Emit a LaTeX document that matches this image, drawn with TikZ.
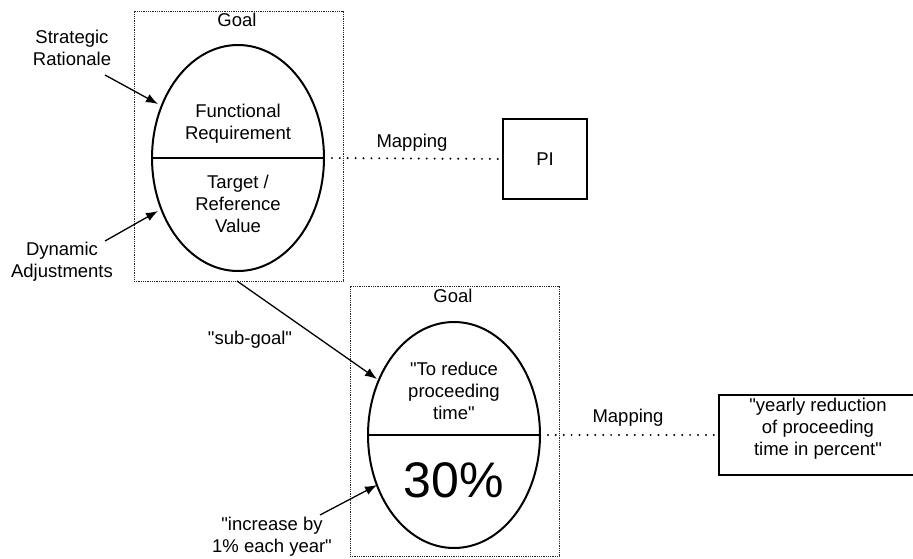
\documentclass[tikz,border=0pt]{standalone}
\usepackage{fontspec}
\setmainfont{Liberation Sans}[Ligatures=TeXOff]
\usetikzlibrary{arrows.meta,shapes.geometric}
\begin{document}
\begin{tikzpicture}[x=1pt,y=-1pt,
  every node/.style={font=\fontsize{18.5}{22}\selectfont, inner sep=0pt, outer sep=0pt},
  txt/.style={align=center},
  goalbox/.style={draw=black!85, line width=0.9pt, dash pattern=on 0.9pt off 0.9pt, minimum width=209pt, minimum height=270pt},
  egg/.style={draw, ellipse, line width=2pt, minimum width=172pt, minimum height=226pt},
  pibox/.style={draw, line width=2pt},
  map/.style={line width=2.2pt, line cap=round, dash pattern=on 0pt off 7.9pt},
  arr/.style={line width=1.3pt, -{Latex[length=12pt,width=9pt]}},
  divider/.style={line width=2pt}
]
\useasboundingbox (0,0) rectangle (913,559);
\clip (0,0) rectangle (913,559);

% top goal
\node[goalbox] (gbox1) at (238.5,146) {};
\node (goal1) at (237,20) {Goal};
\node[egg] (ell1) at (238,158) {};
\draw[divider] (ell1.west) -- (ell1.east);
\node[txt] (fr) at (238,124) {Functional\\Requirement};
\node[txt] (tr) at (238,204) {Target /\\Reference\\Value};
\node[txt] (sr) at (72,48) {Strategic\\Rationale};
\node[txt] (da) at (62,262) {Dynamic\\Adjustments};
\coordinate (srs) at (105,75);
\coordinate (srt) at (158,104);
\coordinate (das) at (105,241);
\coordinate (dat) at (158,211);
\draw[arr] (srs) -- (srt);
\draw[arr] (das) -- (dat);

% PI
\node[pibox, minimum width=84pt, minimum height=80pt] (pi) at (545,159) {PI};
\draw[map] (ell1.east) -- (pi.west);
\node (map1) at (412,143) {Mapping};

% bottom goal
\node[goalbox] (gbox2) at (454.5,421) {};
\node (goal2) at (453,296) {Goal};
\node[egg] (ell2) at (454,435) {};
\draw[divider] (ell2.west) -- (ell2.east);
\node[txt] (red) at (454,391) {"To reduce\\proceeding\\time"};
\node (pct) at (454,480) {\fontsize{50}{55}\selectfont 30\%};
\node (sub) at (250,340) {"sub-goal"};
\node[txt] (inc) at (272,537) {"increase by\\1\% each year"};
\coordinate (subt) at (377,379);
\coordinate (incs) at (320,515);
\coordinate (inct) at (377,485);
\draw[arr] (gbox1.south -| 237,0) -- (subt);
\draw[arr] (incs) -- (inct);

% yearly box
\node[pibox, minimum width=200pt, minimum height=80pt] (yr) at (819,435) {};
\node[txt] (yrt) at (818,429) {"yearly reduction\\of proceeding\\time in percent"};
\draw[map] (ell2.east) -- (yr.west);
\node (map2) at (628,418) {Mapping};
\end{tikzpicture}
\end{document}
